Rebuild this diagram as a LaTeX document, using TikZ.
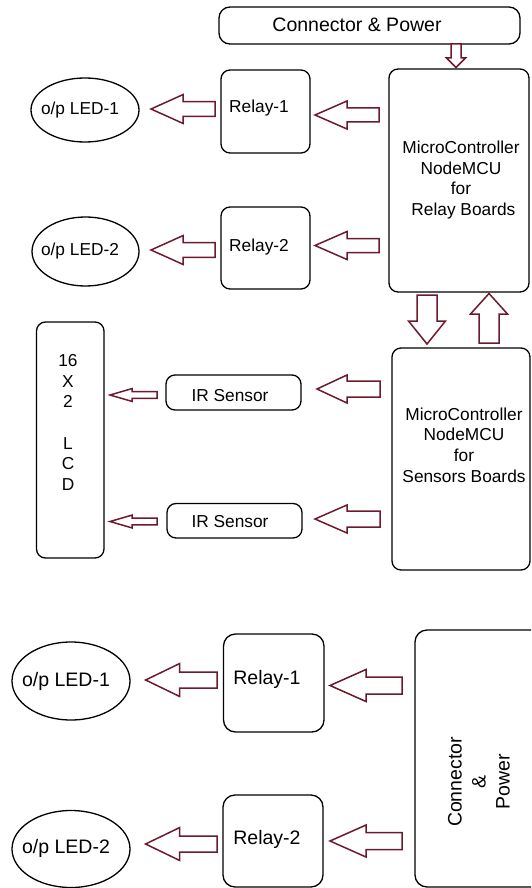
\documentclass[tikz,border=0pt]{standalone}
\usepackage{fontspec}
\setmainfont{Liberation Sans}
\definecolor{maroon}{RGB}{110,26,46}
\tikzset{
  box/.style={draw=black, line width=1.3pt, rounded corners=9pt, inner sep=0pt},
  oval/.style={draw=black, line width=1.3pt, ellipse, inner sep=0pt},
  barrow/.style={draw=maroon, line width=1.5pt, fill=white, line join=miter},
  small/.style={font=\fontsize{17.3}{20.7}\selectfont, align=center, inner sep=0pt},
  big/.style={font=\fontsize{19.5}{24}\selectfont, align=center, inner sep=0pt},
}
\usetikzlibrary{shapes.geometric}
% left-pointing block arrow: tail x, tip x, y, head-base x, half head, half shaft
\newcommand\larr[6]{\draw[barrow] (#1,#3-#6) -- (#4,#3-#6) -- (#4,#3-#5) -- (#2,#3) -- (#4,#3+#5) -- (#4,#3+#6) -- (#1,#3+#6) -- cycle;}
% vertical block arrow: x, tail y, tip y, head-base y, half head, half shaft
\newcommand\varr[6]{\draw[barrow] (#1-#6,#2) -- (#1-#6,#4) -- (#1-#5,#4) -- (#1,#3) -- (#1+#5,#4) -- (#1+#6,#4) -- (#1+#6,#2) -- cycle;}
\begin{document}
\begin{tikzpicture}[x=1pt, y=-1pt]
\useasboundingbox (0,0) rectangle (531,888);
\clip (0,0) rectangle (531,888);
\fill[white] (0,0) rectangle (531,888);

% ---------- top part ----------
\node[box, minimum width=301pt, minimum height=37pt, rounded corners=11pt] (cp) at (369.5,25.5) {};
\node[small, font=\fontsize{19.5}{22}\selectfont] (cpt) at (357,24.5) {Connector \& Power};
\node[box, minimum width=140pt, minimum height=223pt] (mcu1) at (459,180.5) {};
\node[small] (mcu1t) at (461,180) {MicroController\\NodeMCU\\for\\\ Relay Boards};
\node[box, minimum width=89pt, minimum height=83pt] (r1) at (265.5,111.5) {};
\node[small] (r1t) at (259,108) {Relay-1};
\node[box, minimum width=89pt, minimum height=82pt] (r2) at (265.5,248) {};
\node[small] (r2t) at (259,247) {Relay-2};
\node[oval, minimum width=108pt, minimum height=64pt] (l1) at (85,110) {};
\node[small] (l1t) at (80,110) {o/p LED-1};
\node[oval, minimum width=107pt, minimum height=69pt] (l2) at (85.5,251.5) {};
\node[small] (l2t) at (80,251) {o/p LED-2};

\varr{456}{44}{67.5}{58}{9.5}{5}
\larr{215}{151}{109}{183}{14.4}{7.3}
\larr{379}{315}{115}{347}{14}{7}
\larr{215}{151}{250}{183}{14.4}{7.3}
\larr{379}{315}{245.5}{347}{14}{7}

% ---------- middle part ----------
\varr{427}{295}{344}{321}{18.5}{10}
\varr{489}{343}{293.5}{314}{18.5}{10}
\node[box, minimum width=138pt, minimum height=222pt] (mcu2) at (461,459) {};
\node[small] (mcu2t) at (464,445) {MicroController\\NodeMCU\\for\\Sensors Boards};
\node[box, minimum width=67.5pt, minimum height=236pt] (lcd) at (70.25,440) {};
\node[small] (lcdt) at (68,422.5) {16\\X\\2\\[20.7pt]L\\C\\D};
\node[box, minimum width=135pt, minimum height=35pt] (ir1) at (233.5,392.5) {};
\node[small] (ir1t) at (230,396) {IR Sensor};
\node[box, minimum width=135pt, minimum height=34.5pt] (ir2) at (234.5,520.75) {};
\node[small] (ir2t) at (230,522) {IR Sensor};

\larr{380}{317}{389}{347}{14}{8}
\larr{380}{315}{519}{347}{14}{8}
\larr{157}{110}{395}{132}{6.4}{3.4}
\larr{157}{110}{521.5}{132}{6.4}{3.4}

% ---------- bottom part ----------
\node[oval, minimum width=118pt, minimum height=78pt] (b1) at (71,681) {};
\node[big] (b1t) at (66,681) {o/p LED-1};
\node[oval, minimum width=118pt, minimum height=77pt] (b2) at (71,849) {};
\node[big] (b2t) at (66,848) {o/p LED-2};
\node[box, minimum width=100.5pt, minimum height=98pt, rounded corners=12pt] (br1) at (273.75,683) {};
\node[big] (br1t) at (267,679) {Relay-1};
\node[box, minimum width=100pt, minimum height=92pt, rounded corners=12pt] (br2) at (273,841) {};
\node[big] (br2t) at (267,839) {Relay-2};
\node[box, minimum width=130pt, minimum height=257pt, rounded corners=12pt] (cp2) at (480,758.5) {};
\node[big, rotate=90] (cp2t) at (479,782) {Connector\\\&\\Power};

\larr{217}{145.6}{680}{179.5}{16.4}{8}
\larr{402}{330}{685.5}{366}{16}{8.5}
\larr{217}{145.6}{844}{179.5}{16.4}{8}
\larr{402}{330}{841}{366}{16}{8.5}
\end{tikzpicture}
\end{document}
